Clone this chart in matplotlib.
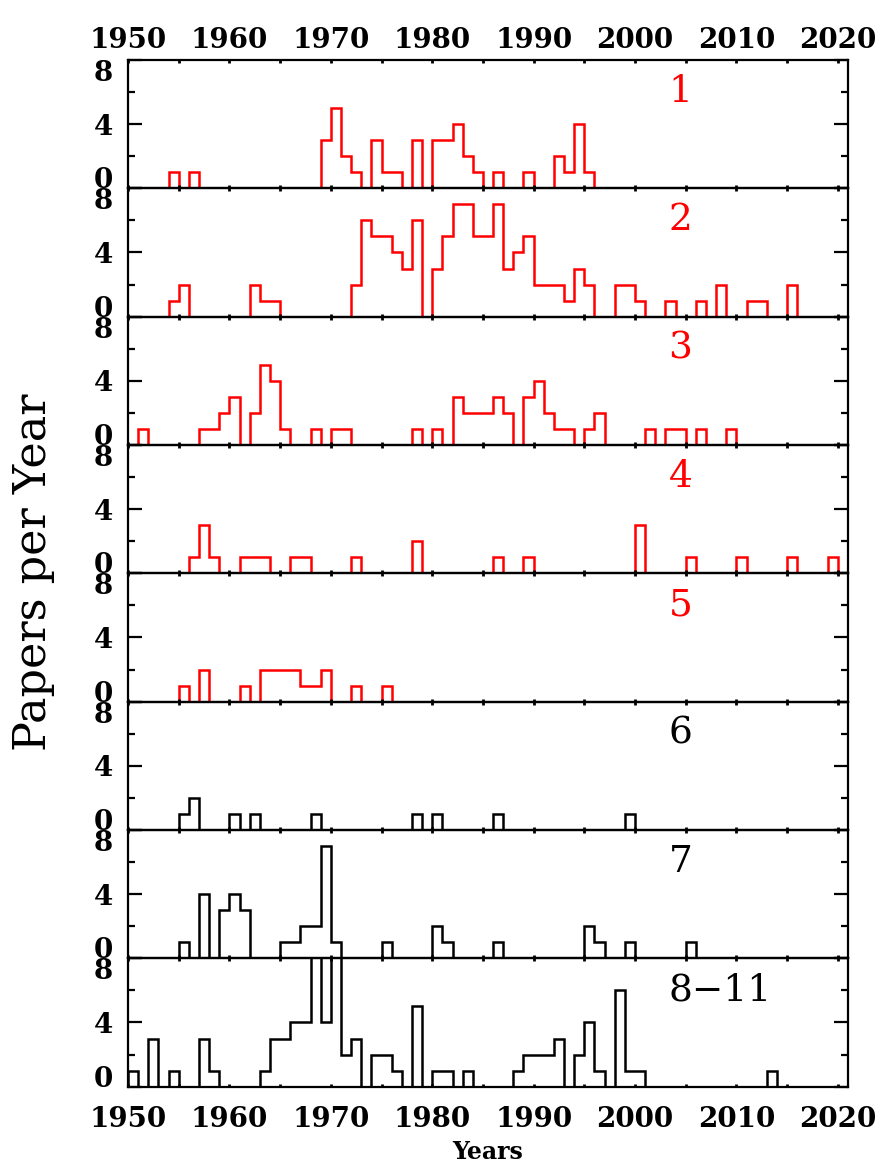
import numpy as np
import matplotlib
matplotlib.use('Agg')
import matplotlib.pyplot as plt

# papers per year, one group per panel (year -> count)
years1 = [1954, 1956, 1969, 1970, 1971, 1972, 1974, 1975, 1976, 1978, 1980, 1981,
          1982, 1983, 1984, 1986, 1989, 1992, 1993, 1994, 1995]
counts1 = [1, 1, 3, 5, 2, 1, 3, 1, 1, 3, 3, 3, 4, 2, 1, 1, 1, 2, 1, 4, 1]

years2 = [1954, 1955, 1962, 1963, 1964, 1972, 1973, 1974, 1975, 1976, 1977, 1978,
          1980, 1981, 1982, 1983, 1984, 1985, 1986, 1987, 1988, 1989, 1990, 1991,
          1992, 1993, 1994, 1995, 1998, 1999, 2000, 2003, 2006, 2008, 2011, 2012, 2015]
counts2 = [1, 2, 2, 1, 1, 2, 6, 5, 5, 4, 3, 6, 3, 5, 7, 7, 5, 5, 7, 3, 4, 5, 2, 2,
           2, 1, 3, 2, 2, 2, 1, 1, 1, 2, 1, 1, 2]

years3 = [1951, 1957, 1958, 1959, 1960, 1962, 1963, 1964, 1965, 1968, 1970, 1971,
          1978, 1980, 1982, 1983, 1984, 1985, 1986, 1987, 1989, 1990, 1991, 1992,
          1993, 1995, 1996, 2001, 2003, 2004, 2006, 2009]
counts3 = [1, 1, 1, 2, 3, 2, 5, 4, 1, 1, 1, 1, 1, 1, 3, 2, 2, 2, 3, 2, 3, 4, 2, 1,
           1, 1, 2, 1, 1, 1, 1, 1]

years4 = [1956, 1957, 1958, 1961, 1962, 1963, 1966, 1967, 1972, 1978, 1986, 1989,
          2000, 2005, 2010, 2015, 2019]
counts4 = [1, 3, 1, 1, 1, 1, 1, 1, 1, 2, 1, 1, 3, 1, 1, 1, 1]

years5 = [1955, 1957, 1961, 1963, 1964, 1965, 1966, 1967, 1968, 1969, 1972, 1975]
counts5 = [1, 2, 1, 2, 2, 2, 2, 1, 1, 2, 1, 1]

years6 = [1955, 1956, 1960, 1962, 1968, 1978, 1980, 1986, 1999]
counts6 = [1, 2, 1, 1, 1, 1, 1, 1, 1]

years7 = [1955, 1957, 1959, 1960, 1961, 1965, 1966, 1967, 1968, 1969, 1970, 1975,
          1980, 1981, 1986, 1995, 1996, 1999, 2005]
counts7 = [1, 4, 3, 4, 3, 1, 1, 2, 2, 7, 1, 1, 2, 1, 1, 2, 1, 1, 1]

years8 = [1950, 1952, 1954, 1957, 1958, 1963, 1964, 1965, 1966, 1967, 1968, 1969,
          1970, 1971, 1972, 1974, 1975, 1976, 1978, 1980, 1981, 1983, 1988, 1989,
          1990, 1991, 1992, 1994, 1995, 1996, 1998, 1999, 2000, 2013]
counts8 = [1, 3, 1, 3, 1, 1, 3, 3, 4, 4, 9, 4, 9, 2, 3, 2, 2, 1, 5, 1, 1, 1, 1, 2,
           2, 2, 3, 2, 4, 1, 6, 1, 1, 1]

panel_labels = ['1', '2', '3', '4', '5', '6', '7', '8\u221211']
panel_colors = ['red'] * 5 + ['black'] * 3

panels = [(years1, counts1), (years2, counts2), (years3, counts3), (years4, counts4),
          (years5, counts5), (years6, counts6), (years7, counts7), (years8, counts8)]

W, H = 883, 1166
fig = plt.figure(figsize=(W / 100, H / 100), dpi=100)

x0, x1 = 128, 848
y_top = 60
ph = 128.33
edges = np.arange(1950, 2022)
tickfont = {'family': 'DejaVu Serif', 'weight': 'bold', 'size': 20}

for i, (yrs, cnts) in enumerate(panels):
    bottom = 1 - (y_top + (i + 1) * ph) / H
    ax = fig.add_axes([x0 / W, bottom, (x1 - x0) / W, ph / H])
    hist = np.zeros(len(edges) - 1)
    hist[np.array(yrs) - 1950] = cnts
    ax.stairs(hist, edges, color=panel_colors[i], linewidth=1.8, zorder=1)

    ax.set_xlim(1950, 2021)
    ax.set_ylim(0, 8)
    ax.set_xticks(range(1950, 2021, 10))
    ax.set_xticks(range(1955, 2021, 10), minor=True)
    ax.set_yticks([0, 4, 8])
    ax.set_yticks([2, 6], minor=True)
    ax.tick_params(axis='x', which='both', direction='in', length=2.5, width=2,
                   top=True, bottom=True, labelbottom=(i == 7), labeltop=(i == 0),
                   pad=(4 if i == 0 else 14))
    ax.tick_params(axis='y', which='major', direction='in', length=10, width=1.6,
                   left=True, right=True, pad=11)
    ax.tick_params(axis='y', which='minor', direction='in', length=5, width=1.6,
                   left=True, right=True)
    for lab in ax.get_xticklabels() + ax.get_yticklabels():
        lab.set_fontproperties(matplotlib.font_manager.FontProperties(**tickfont))
    # IDL style: bottom label sits above its tick, top label below it
    ylabs = ax.get_yticklabels()
    ylabs[0].set_verticalalignment('baseline')
    ylabs[2].set_verticalalignment('top')
    for sp in ax.spines.values():
        sp.set_linewidth(1.6)
        sp.set_zorder(3)
    ax.patch.set_alpha(0)

    ax.text(2003.3, 6.0, panel_labels[i], color=panel_colors[i], ha='left',
            va='center', family='DejaVu Serif', fontsize=27)

fig.text(33 / W, 1 - 572 / H, 'Papers per Year', rotation=90, ha='center',
         va='center', family='DejaVu Serif', fontsize=32)
fig.text(488 / W, 1 - 1152 / H, 'Years', ha='center', va='center',
         family='DejaVu Serif', weight='bold', fontsize=17)

fig.savefig('out.png', dpi=100)
